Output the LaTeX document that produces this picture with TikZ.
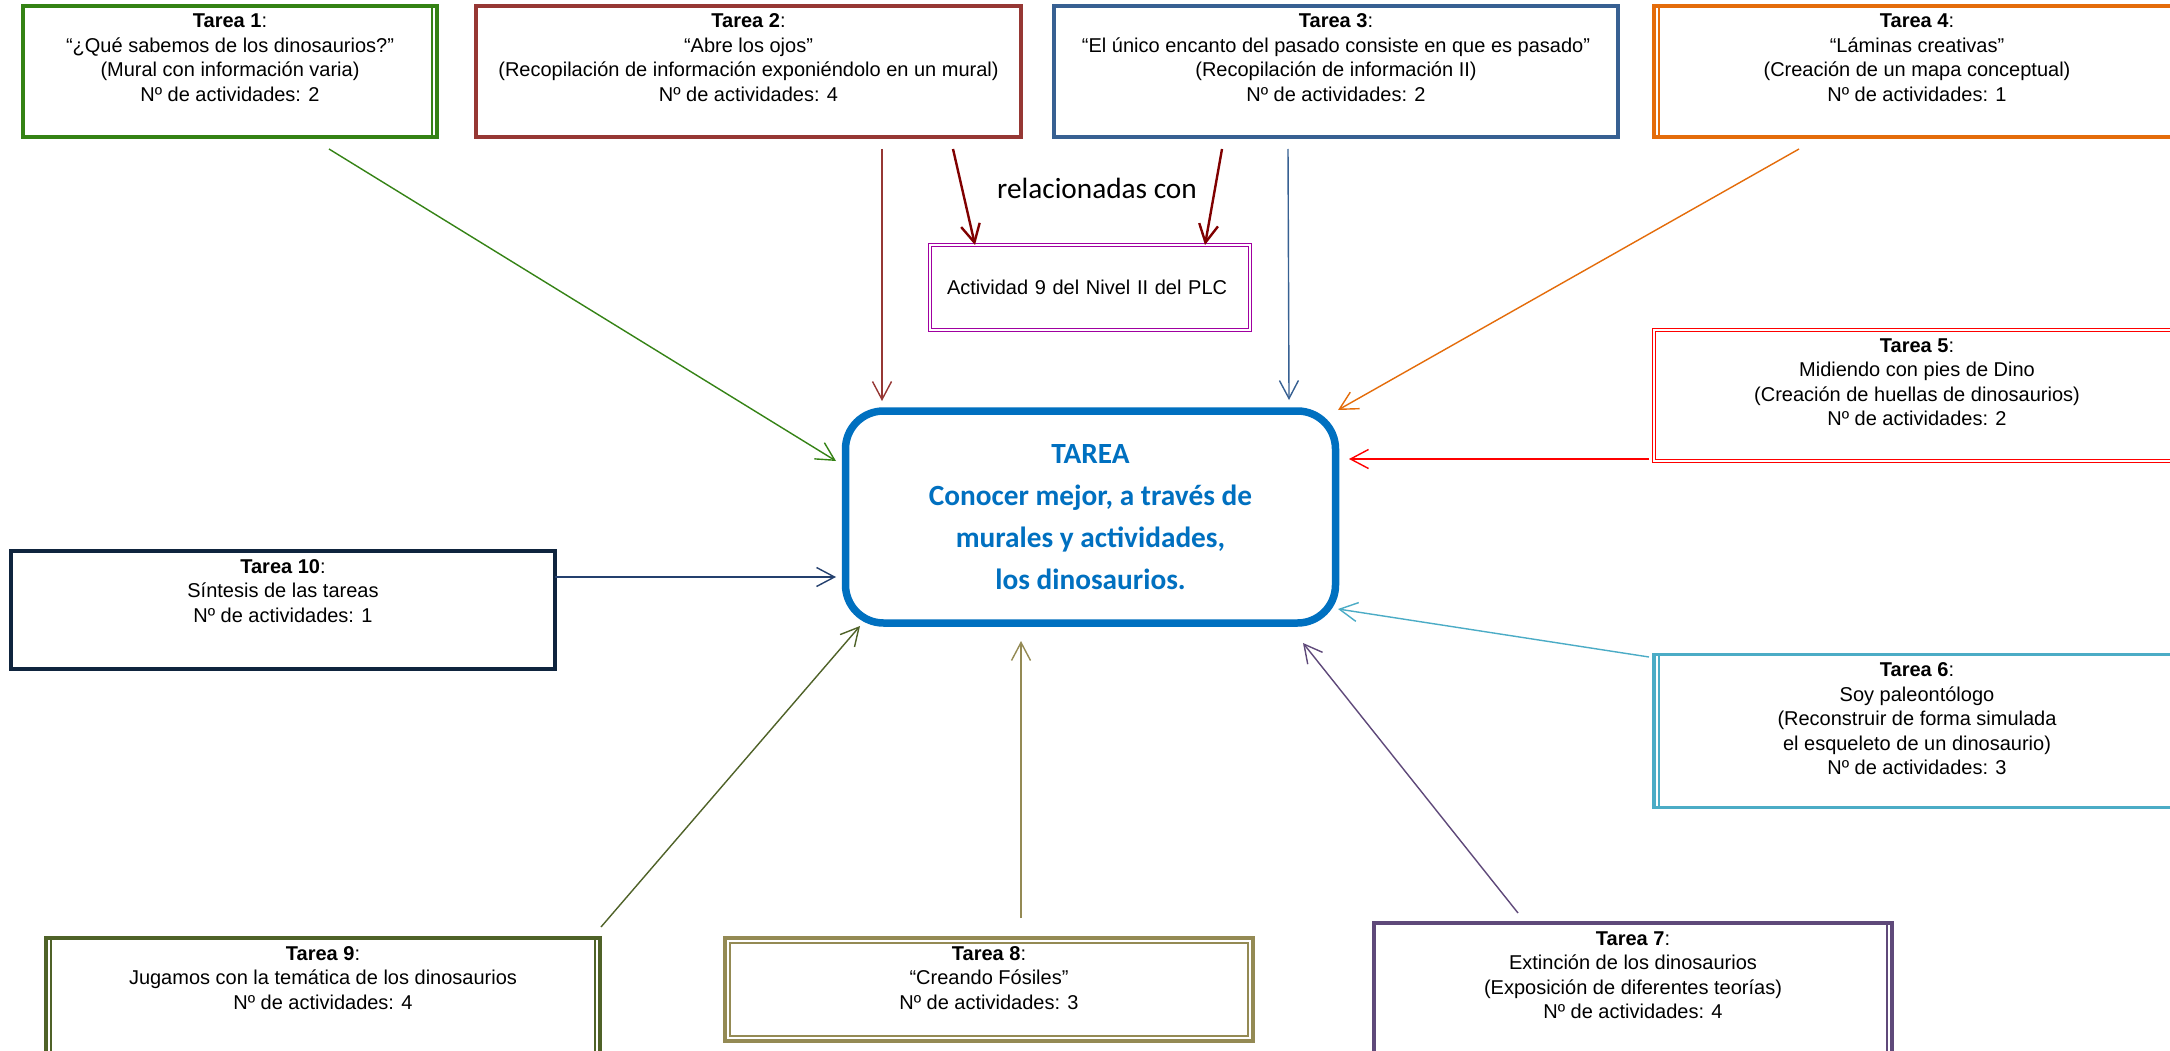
\documentclass[tikz,border=0pt]{standalone}
\usepackage{fontspec}
\setmainfont{Liberation Sans}
\newfontfamily\calibri{Carlito}
\usetikzlibrary{arrows.meta}

\definecolor{verde}{RGB}{52,130,20}
\definecolor{granate}{RGB}{150,55,52}
\definecolor{azulado}{RGB}{55,96,146}
\definecolor{naranja}{RGB}{228,108,10}
\definecolor{celeste}{RGB}{75,172,198}
\definecolor{violeta}{RGB}{95,73,122}
\definecolor{caqui}{RGB}{148,138,84}
\definecolor{oliva}{RGB}{79,98,40}
\definecolor{marino}{RGB}{15,36,62}
\definecolor{marinoclaro}{RGB}{36,64,110}
\definecolor{burdeos}{RGB}{128,0,0}
\definecolor{purpura}{RGB}{160,0,160}
\definecolor{azultarea}{RGB}{0,112,192}

% texto arriba dentro de una caja de alto fijo
\newcommand{\caja}[3]{\parbox[c][#1][t]{#2}{\centering\rule{0pt}{22pt}#3}}

\begin{document}
\begin{tikzpicture}[x=1pt, y=-1pt,
	tarea/.style={draw=#1, line width=3.5pt, inner sep=0pt, outer sep=0pt, font=\fontsize{20}{24.5}\selectfont},
	doble/.style={draw=#1, double, line width=1.5pt, double distance=1.8pt, inner sep=0pt, outer sep=0pt, font=\fontsize{20}{24.5}\selectfont},
	flecha/.style={draw=#1, line width=1.4pt, -{Straight Barb[length=18pt,width=19pt]}},
	fina/.style={draw=#1, line width=1.2pt}]
	\path[use as bounding box, fill=white] (0,0) rectangle (2170,1051);
	\clip (0,0) rectangle (2170,1051);

	% tareas
	\node[tarea=verde] (t1) at (230,71.5) {\caja{131pt}{414pt}{\textbf{Tarea 1}:\\“¿Qué sabemos de los dinosaurios?”\\(Mural con información varia)\\Nº de actividades: 2}};
	\node[tarea=granate] (t2) at (748.5,71.5) {\caja{131pt}{545pt}{\textbf{Tarea 2}:\\“Abre los ojos”\\(Recopilación de información exponiéndolo en un mural)\\Nº de actividades: 4}};
	\node[tarea=azulado] (t3) at (1336,71.5) {\caja{131pt}{564pt}{\textbf{Tarea 3}:\\“El único encanto del pasado consiste en que es pasado”\\(Recopilación de información II)\\Nº de actividades: 2}};
	\node[tarea=naranja] (t4) at (1917,71.5) {\caja{131pt}{526pt}{\textbf{Tarea 4}:\\“Láminas creativas”\\(Creación de un mapa conceptual)\\Nº de actividades: 1}};
	\node[doble=red] (t5) at (1917,395.5) {\caja{131pt}{526pt}{\textbf{Tarea 5}:\\Midiendo con pies de Dino\\(Creación de huellas de dinosaurios)\\Nº de actividades: 2}};
	\node[tarea=celeste] (t6) at (1917,731) {\caja{153pt}{526pt}{\textbf{Tarea 6}:\\Soy paleontólogo\\(Reconstruir de forma simulada\\ el esqueleto de un dinosaurio)\\Nº de actividades: 3}};
	\node[tarea=violeta] (t7) at (1633,994) {\caja{142pt}{518pt}{\textbf{Tarea 7}:\\Extinción de los dinosaurios\\(Exposición de diferentes teorías)\\Nº de actividades: 4}};
	\node[tarea=caqui] (t8) at (989,989.5) {\caja{103pt}{528pt}{\textbf{Tarea 8}:\\“Creando Fósiles”\\Nº de actividades: 3}};
	\node[tarea=oliva] (t9) at (323,1001) {\caja{126pt}{554pt}{\textbf{Tarea 9}:\\Jugamos con la temática de los dinosaurios\\Nº de actividades: 4}};
	\node[tarea=marino] (t10) at (283,610) {\caja{118pt}{544pt}{\textbf{Tarea 10}:\\Síntesis de las tareas\\Nº de actividades: 1}};

	% lineas finas de los bordes dobles
	\draw[fina=verde] ([xshift=-5pt]t1.north east) -- ([xshift=-5pt]t1.south east);
	\draw[fina=naranja] ([xshift=5pt]t4.north west) -- ([xshift=5pt]t4.south west);
	\draw[fina=celeste] ([xshift=5pt]t6.north west) -- ([xshift=5pt]t6.south west);
	\draw[fina=violeta] ([xshift=-5pt]t7.north east) -- ([xshift=-5pt]t7.south east);
	\draw[fina=caqui] ([shift={(5,5)}]t8.north west) rectangle ([shift={(-5,-5)}]t8.south east);
	\draw[fina=oliva] ([xshift=5pt]t9.north west) -- ([xshift=5pt]t9.south west);
	\draw[fina=oliva] ([xshift=-5pt]t9.north east) -- ([xshift=-5pt]t9.south east);

	% centro
	\node[draw=azultarea, line width=7.5pt, rounded corners=38pt, minimum width=490pt, minimum height=212pt,
		align=center, text=azultarea, font=\calibri\bfseries\fontsize{29.3}{42}\selectfont] (tarea) at (1090.5,517)
		{TAREA\\Conocer mejor, a través de\\murales y actividades,\\los dinosaurios.};
	\node[font=\calibri\fontsize{29.3}{35}\selectfont] (rel) at (1097,188) {relacionadas con};
	\node[doble=purpura, minimum width=320pt, minimum height=85pt, text width=286pt, align=left, inner xsep=17pt] (act) at (1090,287.5) {Actividad 9 del Nivel II del PLC};

	% extremos de las flechas
	\coordinate (s1) at (329,149);  \coordinate (e1) at (836,461);
	\coordinate (s2) at (882,149);  \coordinate (e2) at (882,401);
	\coordinate (s3) at (1288,149); \coordinate (e3) at (1289,400);
	\coordinate (s4) at (1799,149); \coordinate (e4) at (1338,410);
	\coordinate (s5) at (1649,459); \coordinate (e5) at (1349,459);
	\coordinate (s6) at (1649,657); \coordinate (e6) at (1338,609);
	\coordinate (s7) at (1518,913); \coordinate (e7) at (1303,643);
	\coordinate (s8) at (1021,918); \coordinate (e8) at (1021,641);
	\coordinate (s9) at (601,927);  \coordinate (e9) at (860,626);
	\coordinate (s10) at (555,577); \coordinate (e10) at (836,577);
	\coordinate (ra) at (953,149);  \coordinate (rb) at (1222,149);

	\path (s1) edge[flecha=verde] (e1);
	\path (s2) edge[flecha=granate] (e2);
	\path (s3) edge[flecha=azulado] (e3);
	\path (s4) edge[flecha=naranja] (e4);
	\path (s5) edge[flecha=red] (e5);
	\path (s6) edge[flecha=celeste] (e6);
	\path (s7) edge[flecha=violeta] (e7);
	\path (s8) edge[flecha=caqui] (e8);
	\path (s9) edge[flecha=oliva] (e9);
	\path (s10) edge[flecha=marinoclaro] (e10);
	\path (ra) edge[flecha=burdeos, line width=2.4pt] ([xshift=-115pt]act.north);
	\path (rb) edge[flecha=burdeos, line width=2.4pt] ([xshift=115pt]act.north);
\end{tikzpicture}
\end{document}
